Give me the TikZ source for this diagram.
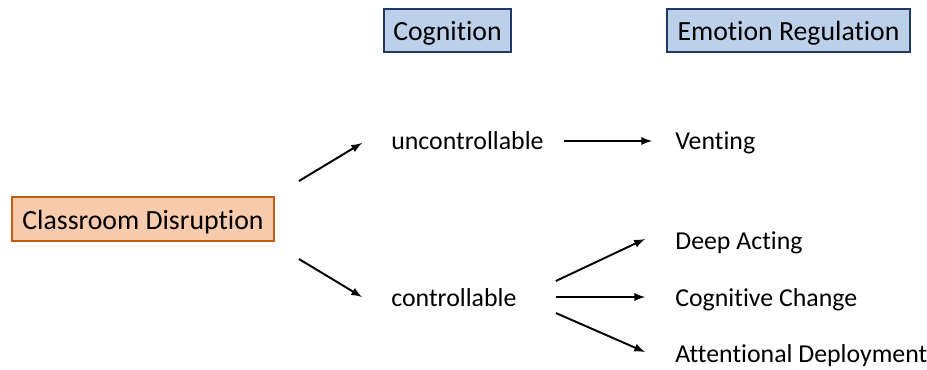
\documentclass[tikz,border=0pt]{standalone}
\usepackage{fontspec}
\setmainfont{Carlito}[Ligatures=NoCommon]
\usepackage{xcolor}
\usetikzlibrary{arrows}
\usetikzlibrary{calc}
\definecolor{qorange}{RGB}{248,203,173}
\definecolor{qorangeline}{RGB}{197,90,17}
\definecolor{qblue}{RGB}{189,208,233}
\definecolor{qblueline}{RGB}{31,56,100}

\tikzset{
  txt/.style={anchor=base west, inner sep=0pt, font=\fontsize{14.7}{18}\selectfont},
  hbox/.style={draw=qblueline, fill=qblue, line width=1.1pt, minimum height=0.86cm,
    inner sep=0pt, text height=11.5pt, text depth=0pt, font=\fontsize{15.8}{19}\selectfont},
  arr/.style={-latex, line width=1.1pt},
}

\begin{document}
\begin{tikzpicture}[scale=1.0]

\useasboundingbox (0,0) rectangle (18.54,-7.38);

% headings
\node[hbox, minimum width=2.54cm] (cog) at (8.95,-0.61) {Cognition};
\node[hbox, minimum width=4.86cm] (er) at (15.77,-0.61) {Emotion Regulation};

% trigger
\node[hbox, draw=qorangeline, fill=qorange, minimum width=5.24cm, minimum height=0.88cm]
  (cd) at (2.86,-4.38) {Classroom Disruption};

% appraisals
\node[txt] (unc) at (7.82,-2.98) {uncontrollable};
\node[txt] (ctl) at (7.82,-6.12) {controllable};

% strategies
\node[txt] (vent) at (13.5,-2.98) {Venting};
\node[txt] (deep) at (13.5,-4.98) {Deep Acting};
\node[txt] (cogch) at (13.5,-6.12) {Cognitive Change};
\node[txt] (att) at (13.5,-7.24) {Attentional Deployment};

\draw[arr] ($(cd.east)+(0.48,0.76)$) -- ($(unc.base west)+(-0.58,0.12)$);
\draw[arr] ($(cd.east)+(0.48,-0.80)$) -- ($(ctl.base west)+(-0.58,0.18)$);
\draw[arr] ($(unc.base east)+(0.4,0.16)$) -- ($(vent.base west)+(-0.46,0.16)$);
\draw[arr] ($(ctl.base east)+(0.78,0.50)$) -- ($(deep.base west)+(-0.6,0.20)$);
\draw[arr] ($(ctl.base east)+(0.78,0.18)$) -- ($(cogch.base west)+(-0.6,0.18)$);
\draw[arr] ($(ctl.base east)+(0.78,-0.14)$) -- ($(att.base west)+(-0.6,0.20)$);

\end{tikzpicture}
\end{document}
